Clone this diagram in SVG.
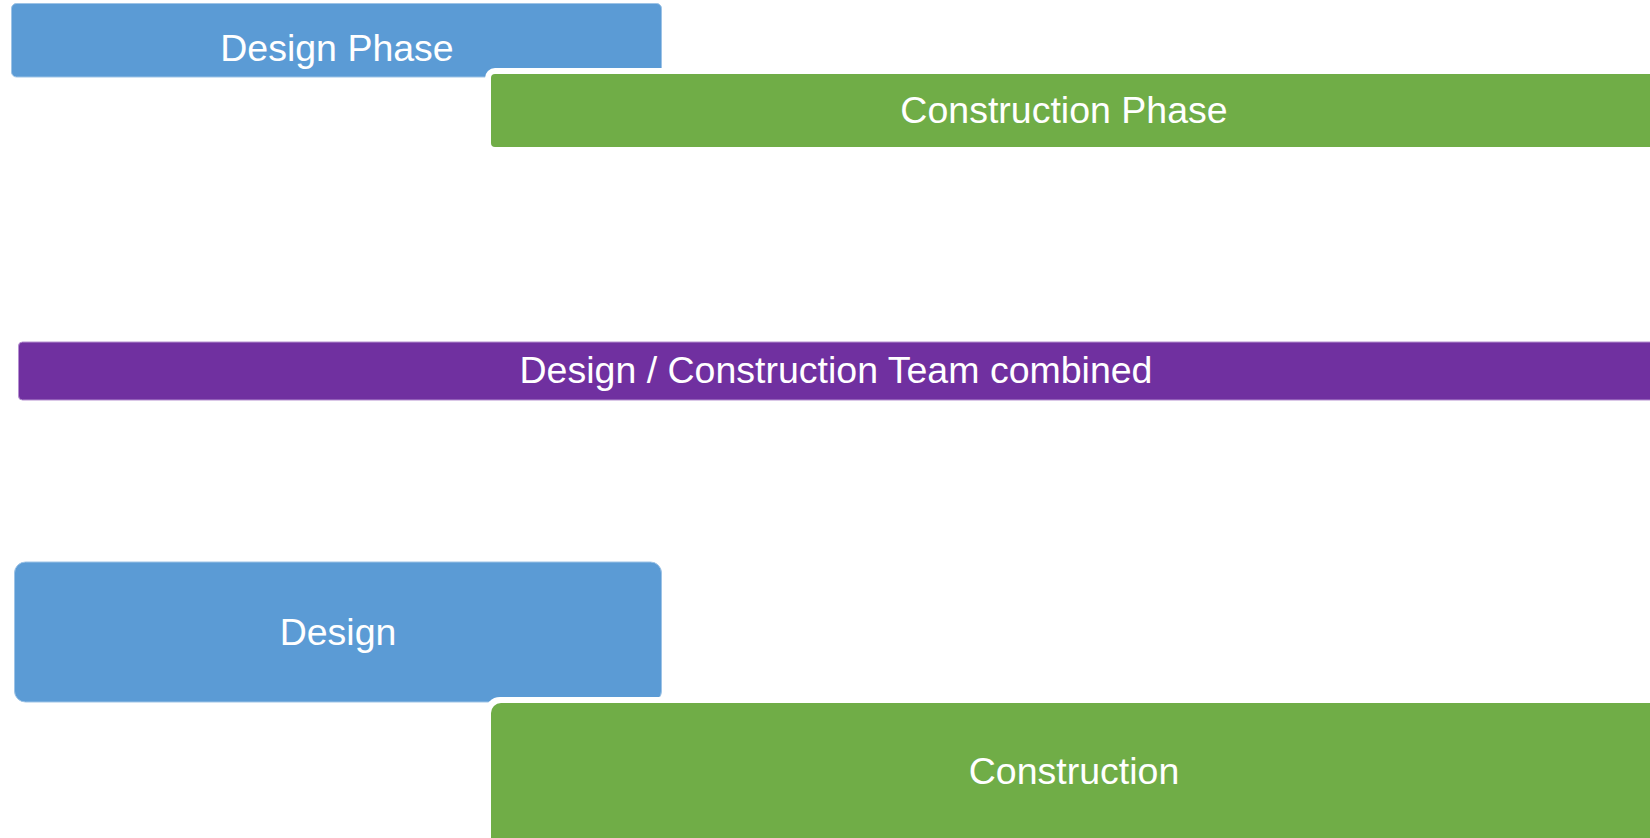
<svg xmlns="http://www.w3.org/2000/svg" width="1650" height="838" viewBox="0 0 1650 838">
<style>
.lbl{font-family:"Liberation Sans",Arial,sans-serif;font-size:37.5px;fill:#fff;text-anchor:middle}
.blue{fill:#5B9BD5;stroke:#9DC3E6;stroke-width:1}
.green{fill:#70AD47}
.purple{fill:#7030A0;stroke:#B58FD0;stroke-width:1}
.halo{fill:#fff}
</style>
<rect width="1650" height="838" fill="#fff"/>
<g id="design-phase">
<rect class="blue" x="11.5" y="3.5" width="650" height="73.5" rx="5"/>
<text class="lbl" x="337" y="61">Design Phase</text>
</g>
<g id="construction-phase">
<rect class="halo" x="485" y="68" width="1180" height="85" rx="10"/>
<rect class="green" x="491" y="74" width="1170" height="73" rx="4"/>
<text class="lbl" x="1064" y="123">Construction Phase</text>
</g>
<g id="team-combined">
<rect class="purple" x="18.5" y="342" width="1640" height="58" rx="4"/>
<text class="lbl" x="836" y="383">Design / Construction Team combined</text>
</g>
<g id="design">
<rect class="blue" x="14.5" y="562" width="647" height="140" rx="11"/>
<text class="lbl" x="338" y="645">Design</text>
</g>
<g id="construction">
<rect class="halo" x="485" y="697" width="1180" height="160" rx="15"/>
<rect class="green" x="491" y="703" width="1170" height="150" rx="10"/>
<text class="lbl" x="1074" y="784">Construction</text>
</g>
<g id="connectors"/>
</svg>
